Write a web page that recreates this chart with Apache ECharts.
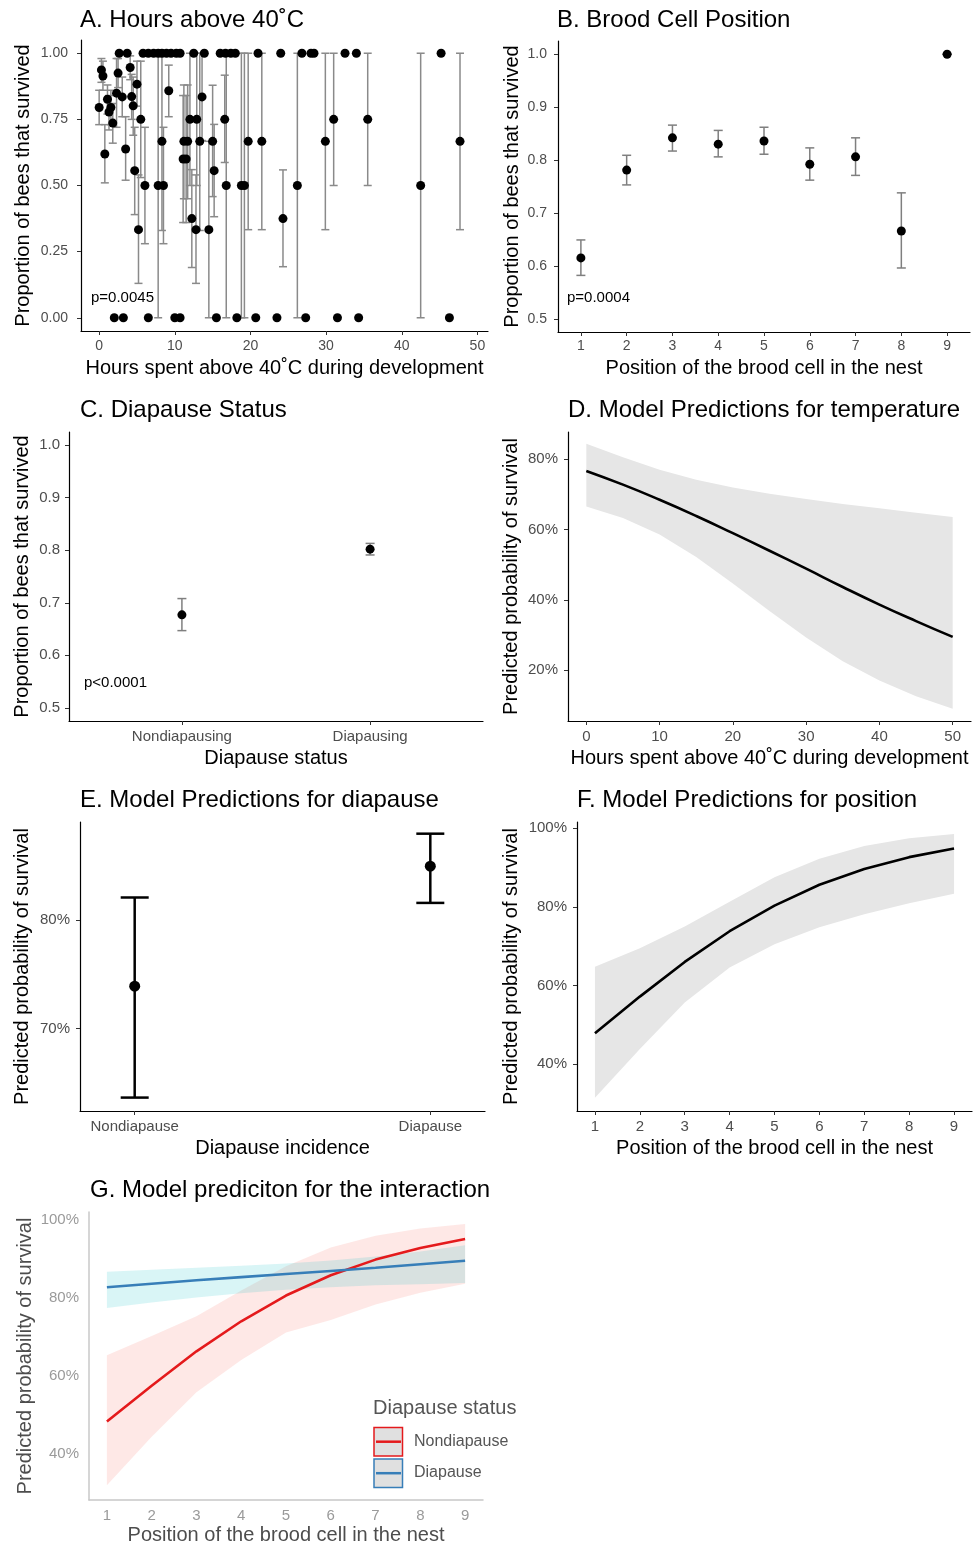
<!DOCTYPE html>
<html>
<head>
<meta charset="utf-8">
<title>bee survival</title>
<script src="https://cdn.jsdelivr.net/npm/echarts@6/dist/echarts.min.js"></script>
<style>
    html, body { margin: 0; padding: 0; background: #fff; }
    #chart { width: 975px; height: 1546px; }
</style>
</head>
<body>
<div id="chart"></div>
<script>
// A. hours above 40C -- nests with some mortality (proportion, lower, upper)
var aHours = [0.0,0.3,0.5,0.75,1.1,1.3,1.55,1.8,2.3,2.5,3.05,3.5,4.1,4.3,4.5,4.7,5.0,5.2,5.5,6.05,7.8,8.3,8.5,9.2,11.1,11.2,11.5,11.7,12.0,12.25,12.8,12.9,13.3,13.6,14.5,15.0,15.2,16.6,16.8,18.8,19.2,19.7,21.5,24.3,26.2,29.9,31.0,35.5,42.5,47.7];
var aProp  = [0.795,0.937,0.914,0.619,0.826,0.778,0.795,0.736,0.849,0.925,0.835,0.638,0.946,0.836,0.801,0.556,0.883,0.333,0.75,0.5,0.5,0.667,0.5,0.858,0.6,0.667,0.6,0.667,0.75,0.375,0.333,0.75,0.667,0.835,0.333,0.667,0.556,0.75,0.5,0.5,0.5,0.667,0.667,0.375,0.5,0.667,0.75,0.75,0.5,0.667];
var aLow   = [0.73,0.89,0.86,0.51,0.77,0.71,0.73,0.66,0.72,0.87,0.76,0.52,0.90,0.75,0.69,0.39,0.80,0.13,0.53,0.28,0,0.33,0.28,0.76,0.36,0.45,0.36,0.45,0.5,0.19,0.13,0.5,0.33,0.67,0,0.458,0.382,0.587,0,0,0,0.333,0.333,0.193,0,0.333,0.5,0.5,0,0.333];
var aHigh  = [0.86,0.98,0.97,0.73,0.88,0.84,0.86,0.81,0.98,0.98,0.91,0.76,0.99,0.92,0.91,0.72,0.97,0.54,0.97,0.72,1,1,0.72,0.955,0.84,0.88,0.84,0.88,1,0.56,0.54,1,1,1,0.667,0.879,0.731,0.917,1,1,1,1,1,0.559,1,1,1,1,1,1];
// nests where all bees survived / none survived
var aAllHours  = [2.65,3.7,5.8,6.5,7.2,7.8,8.3,8.9,9.5,10.2,10.7,12.5,13.9,16.0,16.7,17.4,18.0,21.0,24.0,26.8,28.0,28.4,32.5,34.0,45.2];
var aNoneHours = [2.0,3.2,6.5,10.0,10.7,15.5,18.2,20.7,23.5,27.3,31.5,34.3,46.3];

// B. brood cell position
var bPos  = [1,2,3,4,5,6,7,8,9];
var bProp = [0.615,0.781,0.842,0.830,0.836,0.792,0.806,0.666,1.0];
var bLow  = [0.582,0.753,0.817,0.806,0.811,0.762,0.771,0.596,1.0];
var bHigh = [0.649,0.809,0.866,0.856,0.862,0.823,0.842,0.738,1.0];

// C. diapause status
var cGroups = ['Nondiapausing','Diapausing'];
var cProp = [0.677,0.802];
var cLow  = [0.647,0.791];
var cHigh = [0.708,0.813];

// D. model predictions, temperature
var dHours = [0,5,10,15,20,25,30,35,40,45,50];
var dPred  = [0.767,0.728,0.685,0.639,0.590,0.540,0.489,0.437,0.387,0.340,0.295];
var dLow   = [0.666,0.633,0.586,0.522,0.447,0.369,0.293,0.226,0.171,0.126,0.091];
var dHigh  = [0.844,0.806,0.770,0.742,0.720,0.702,0.687,0.673,0.661,0.648,0.636];

// E. model predictions, diapause
var eGroups = ['Nondiapause','Diapause'];
var ePred = [0.739,0.850];
var eLow  = [0.636,0.816];
var eHigh = [0.821,0.880];

// F. model predictions, position
var fPos  = [1,2,3,4,5,6,7,8,9];
var fPred = [0.479,0.572,0.660,0.738,0.803,0.856,0.896,0.926,0.948];
var fLow  = [0.315,0.439,0.557,0.646,0.705,0.748,0.781,0.809,0.833];
var fHigh = [0.648,0.695,0.750,0.813,0.875,0.922,0.954,0.974,0.985];

// G. interaction
var gPos = [1,2,3,4,5,6,7,8,9];
var gNonPred = [0.482,0.574,0.662,0.739,0.805,0.857,0.897,0.927,0.950];
var gNonLow  = [0.319,0.443,0.557,0.640,0.710,0.742,0.782,0.812,0.835];
var gNonHigh = [0.652,0.701,0.752,0.818,0.880,0.928,0.958,0.977,0.988];
var gDiaPred = [0.826,0.835,0.844,0.852,0.860,0.868,0.876,0.885,0.894];
var gDiaLow  = [0.773,0.787,0.800,0.811,0.820,0.826,0.831,0.834,0.837];
var gDiaHigh = [0.866,0.871,0.876,0.881,0.887,0.895,0.905,0.918,0.934];

var FONT = '"Liberation Sans", Arial, sans-serif';
var RED = '#E41A1C', BLUE = '#377EB8';

function pairs(xs, ys) { return xs.map(function (x, i) { return [x, ys[i]]; }); }
function triples(xs, lo, hi) { return xs.map(function (x, i) { return [x, lo[i], hi[i]]; }); }
function pct(v) { return Math.round(v * 100) + '%'; }

function mkAxis(o) {
    return {
        type: 'value', gridIndex: o.grid, min: o.min, max: o.max,
        name: o.name, nameLocation: 'middle', nameGap: o.gap,
        nameTextStyle: {fontFamily: FONT, fontSize: 20, color: o.light ? '#4d4d4d' : '#000'},
        axisLine: {show: true, onZero: false, lineStyle: {color: o.light ? '#c8c8c8' : '#000', width: o.light ? 1.5 : 1.2}},
        axisTick: {show: !o.light, length: 4, customValues: o.ticks, lineStyle: {color: '#333', width: 1}},
        axisLabel: {customValues: o.ticks, formatter: o.fmt, margin: o.margin, fontFamily: FONT,
            fontSize: o.size || 14, color: o.light ? '#9a9a9a' : '#4d4d4d'},
        splitLine: {show: false}
    };
}

function errorBars(idx, data, capW, color, lw) {
    return {
        type: 'custom', xAxisIndex: idx, yAxisIndex: idx, data: data, silent: true, z: 2,
        encode: {x: 0, y: [1, 2]},
        renderItem: function (params, api) {
            var x = api.value(0), lo = api.value(1), hi = api.value(2);
            var t = api.coord([x, hi]), b = api.coord([x, lo]), h = capW / 2;
            var st = {stroke: color, lineWidth: lw};
            return {type: 'group', children: [
                {type: 'line', shape: {x1: t[0], y1: t[1], x2: b[0], y2: b[1]}, style: st},
                {type: 'line', shape: {x1: t[0] - h, y1: t[1], x2: t[0] + h, y2: t[1]}, style: st},
                {type: 'line', shape: {x1: b[0] - h, y1: b[1], x2: b[0] + h, y2: b[1]}, style: st}
            ]};
        }
    };
}

function band(idx, xs, lo, hi, fill) {
    return {
        type: 'custom', xAxisIndex: idx, yAxisIndex: idx, data: [[xs[0], lo[0]]], silent: true, z: 1,
        renderItem: function (params, api) {
            var pts = [], i;
            for (i = 0; i < xs.length; i++) pts.push(api.coord([xs[i], hi[i]]));
            for (i = xs.length - 1; i >= 0; i--) pts.push(api.coord([xs[i], lo[i]]));
            return {type: 'polygon', shape: {points: pts}, style: {fill: fill}};
        }
    };
}

function dots(idx, data, size) {
    return {type: 'scatter', xAxisIndex: idx, yAxisIndex: idx, data: data, symbolSize: size,
        itemStyle: {color: '#000', opacity: 1}, silent: true, z: 3};
}

function line(idx, data, color, smooth) {
    return {type: 'line', xAxisIndex: idx, yAxisIndex: idx, data: data, showSymbol: false, symbol: 'none',
        smooth: smooth || false, lineStyle: {color: color, width: 2.6}, silent: true, z: 4};
}

var titleStyle = {fontFamily: FONT, fontSize: 24, fontWeight: 'normal', color: '#000'};
function ttl(text, left, top) { return {text: text, left: left, top: top, padding: 0, textStyle: titleStyle}; }

var aDots = pairs(aHours, aProp)
    .concat(aAllHours.map(function (h) { return [h, 1]; }))
    .concat(aNoneHours.map(function (h) { return [h, 0]; }));

var chart = echarts.init(document.getElementById('chart'));
chart.setOption({
    backgroundColor: '#fff',
    animation: false,
    title: [
        ttl('A. Hours above 40˚C', 80, 8),
        ttl('B. Brood Cell Position', 557, 8),
        ttl('C. Diapause Status', 80, 398),
        ttl('D. Model Predictions for temperature', 568, 398),
        ttl('E. Model Predictions for diapause', 80, 788),
        ttl('F. Model Predictions for position', 577, 788),
        ttl('G. Model prediciton for the interaction', 90, 1178)
    ],
    grid: [
        {left: 81, top: 40, width: 407, height: 291},
        {left: 558, top: 41, width: 412, height: 291},
        {left: 69, top: 432, width: 414, height: 289},
        {left: 568, top: 432, width: 403, height: 289},
        {left: 80, top: 822, width: 405, height: 289},
        {left: 577, top: 822, width: 395, height: 289},
        {left: 89, top: 1212, width: 394, height: 290}
    ],
    xAxis: [
        mkAxis({grid: 0, min: -2.4, max: 51.4, ticks: [0,10,20,30,40,50], margin: 8, gap: 27,
            name: 'Hours spent above 40˚C during development'}),
        mkAxis({grid: 1, min: 0.5, max: 9.5, ticks: bPos, margin: 7, gap: 26,
            name: 'Position of the brood cell in the nest'}),
        mkAxis({grid: 2, min: 0.4, max: 2.6, ticks: [1,2], margin: 8, gap: 27, size: 15,
            fmt: function (v) { return cGroups[Math.round(v) - 1]; }, name: 'Diapause status'}),
        mkAxis({grid: 3, min: -2.5, max: 52.5, ticks: [0,10,20,30,40,50], margin: 8, gap: 27, size: 15,
            name: 'Hours spent above 40˚C during development'}),
        mkAxis({grid: 4, min: 0.815, max: 2.185, ticks: [1,2], margin: 8, gap: 27, size: 15,
            fmt: function (v) { return eGroups[Math.round(v) - 1]; }, name: 'Diapause incidence'}),
        mkAxis({grid: 5, min: 0.6, max: 9.4, ticks: fPos, margin: 8, gap: 27, size: 15,
            name: 'Position of the brood cell in the nest'}),
        mkAxis({grid: 6, min: 0.6, max: 9.4, ticks: gPos, margin: 8, gap: 25, size: 15, light: true,
            name: 'Position of the brood cell in the nest'})
    ],
    yAxis: [
        mkAxis({grid: 0, min: -0.05, max: 1.05, ticks: [0,0.25,0.5,0.75,1], margin: 13, gap: 48,
            fmt: function (v) { return v.toFixed(2); }, name: 'Proportion of bees that survived'}),
        mkAxis({grid: 1, min: 0.475, max: 1.025, ticks: [0.5,0.6,0.7,0.8,0.9,1.0], margin: 11, gap: 36,
            fmt: function (v) { return v.toFixed(1); }, name: 'Proportion of bees that survived'}),
        mkAxis({grid: 2, min: 0.475, max: 1.025, ticks: [0.5,0.6,0.7,0.8,0.9,1.0], margin: 9, gap: 37, size: 15,
            fmt: function (v) { return v.toFixed(1); }, name: 'Proportion of bees that survived'}),
        mkAxis({grid: 3, min: 0.0559, max: 0.8777, ticks: [0.2,0.4,0.6,0.8], margin: 10, gap: 47, size: 15,
            fmt: pct, name: 'Predicted probability of survival'}),
        mkAxis({grid: 4, min: 0.6236, max: 0.8908, ticks: [0.7,0.8], margin: 10, gap: 48, size: 15,
            fmt: pct, name: 'Predicted probability of survival'}),
        mkAxis({grid: 5, min: 0.2816, max: 1.0152, ticks: [0.4,0.6,0.8,1.0], margin: 10, gap: 56, size: 15,
            fmt: pct, name: 'Predicted probability of survival'}),
        mkAxis({grid: 6, min: 0.281, max: 1.019, ticks: [0.4,0.6,0.8,1.0], margin: 10, gap: 54, size: 15, light: true,
            fmt: pct, name: 'Predicted probability of survival'})
    ],
    series: [
        errorBars(0, triples(aHours, aLow, aHigh), 8, '#8a8a8a', 1.5),
        dots(0, aDots, 9),

        errorBars(1, triples(bPos, bLow, bHigh), 9, '#7f7f7f', 1.5),
        dots(1, pairs(bPos, bProp), 9),

        errorBars(2, triples([1,2], cLow, cHigh), 9, '#7f7f7f', 1.5),
        dots(2, pairs([1,2], cProp), 9),

        band(3, dHours, dLow, dHigh, '#e6e6e6'),
        line(3, pairs(dHours, dPred), '#000', true),

        errorBars(4, triples([1,2], eLow, eHigh), 28, '#000', 2.5),
        dots(4, pairs([1,2], ePred), 11),

        band(5, fPos, fLow, fHigh, '#e6e6e6'),
        line(5, pairs(fPos, fPred), '#000'),

        band(6, gPos, gNonLow, gNonHigh, 'rgba(248,118,109,0.17)'),
        band(6, gPos, gDiaLow, gDiaHigh, 'rgba(0,191,196,0.15)'),
        line(6, pairs(gPos, gNonPred), RED),
        line(6, pairs(gPos, gDiaPred), BLUE)
    ],
    graphic: [
        {type: 'text', x: 91, y: 298, style: {text: 'p=0.0045', fontFamily: FONT, fontSize: 15, fill: '#000', verticalAlign: 'middle'}},
        {type: 'text', x: 567, y: 298, style: {text: 'p=0.0004', fontFamily: FONT, fontSize: 15, fill: '#000', verticalAlign: 'middle'}},
        {type: 'text', x: 84, y: 683, style: {text: 'p<0.0001', fontFamily: FONT, fontSize: 15, fill: '#000', verticalAlign: 'middle'}},

        {type: 'text', x: 373, y: 1408, style: {text: 'Diapause status', fontFamily: FONT, fontSize: 20, fill: '#555', verticalAlign: 'middle'}},
        {type: 'rect', shape: {x: 374, y: 1427.5, width: 28.5, height: 28.5}, style: {fill: '#e0e0e0', stroke: RED, lineWidth: 1.5}},
        {type: 'line', shape: {x1: 376, y1: 1441.7, x2: 401, y2: 1441.7}, style: {stroke: RED, lineWidth: 2.5}},
        {type: 'rect', shape: {x: 374, y: 1459, width: 28.5, height: 28.5}, style: {fill: '#e0e0e0', stroke: BLUE, lineWidth: 1.5}},
        {type: 'line', shape: {x1: 376, y1: 1473.2, x2: 401, y2: 1473.2}, style: {stroke: BLUE, lineWidth: 2.5}},
        {type: 'text', x: 414, y: 1442, style: {text: 'Nondiapause', fontFamily: FONT, fontSize: 16, fill: '#555', verticalAlign: 'middle'}},
        {type: 'text', x: 414, y: 1473, style: {text: 'Diapause', fontFamily: FONT, fontSize: 16, fill: '#555', verticalAlign: 'middle'}}
    ]
});
</script>
</body>
</html>
